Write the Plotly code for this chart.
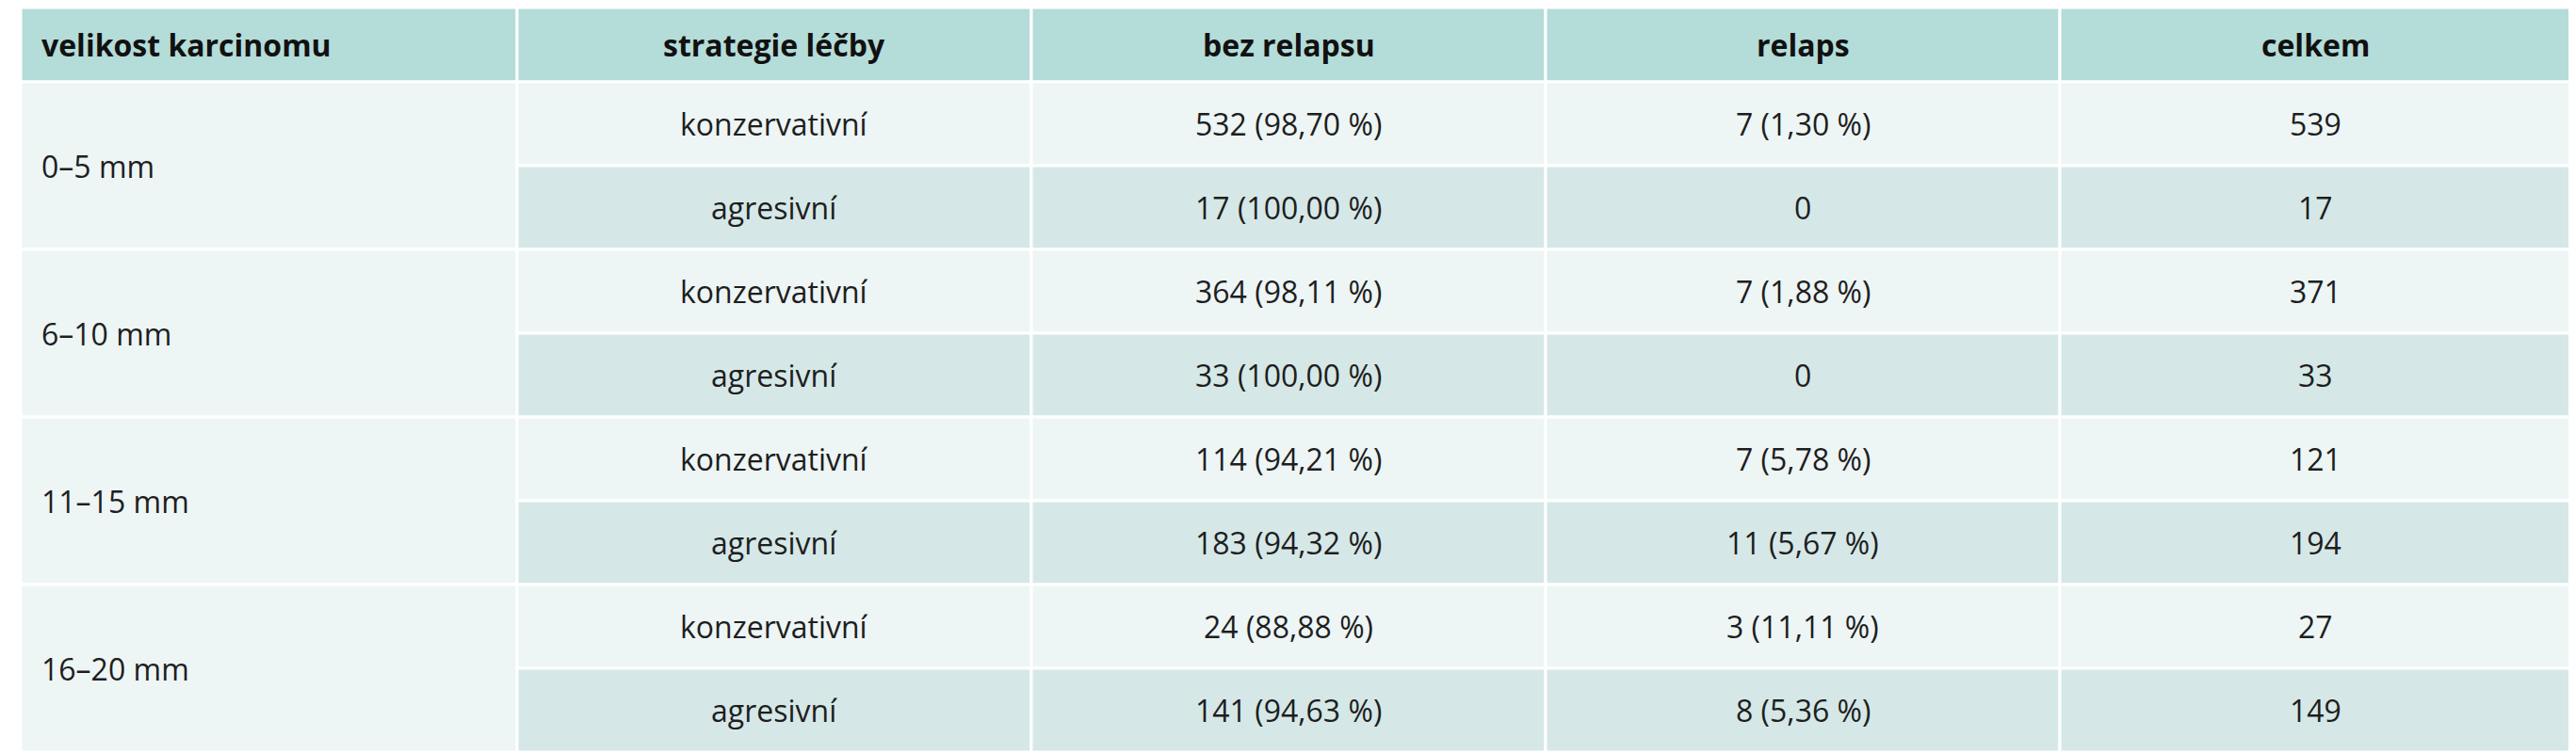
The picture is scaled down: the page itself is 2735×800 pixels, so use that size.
import plotly.graph_objects as go

headers = ["velikost karcinomu", "strategie léčby", "bez relapsu", "relaps", "celkem"]
sizes = ["0–5 mm", "6–10 mm", "11–15 mm", "16–20 mm"]
strategies = ["konzervativní", "agresivní"] * 4
bez_relapsu = ["532 (98,70 %)", "17 (100,00 %)", "364 (98,11 %)", "33 (100,00 %)",
               "114 (94,21 %)", "183 (94,32 %)", "24 (88,88 %)", "141 (94,63 %)"]
relaps = ["7 (1,30 %)", "0", "7 (1,88 %)", "0", "7 (5,78 %)", "11 (5,67 %)", "3 (11,11 %)", "8 (5,36 %)"]
celkem = ["539", "17", "371", "33", "121", "194", "27", "149"]

W, H = 2735, 800
colx = [14, 541, 1087, 1633, 2179, 2721]
top, head_h, row_h = 0, 79, 89
HEAD, C1, LIGHT, DARK = "#b4dcd8", "#edf5f5", "#edf5f5", "#d5e8e7"
font = dict(family="Open Sans", size=32, color="#1e1e1e")
hfont = dict(family="Open Sans", size=32, color="#111", weight="bold")

shapes, ann = [], []
def rect(x0, y0, x1, y1, c):
    shapes.append(dict(type="rect", x0=x0, x1=x1, y0=y0, y1=y1, fillcolor=c,
                       line=dict(color="white", width=3), layer="below"))

for i, h in enumerate(headers):
    rect(colx[i], top, colx[i+1], top+head_h, HEAD)
    ann.append(dict(x=colx[0]+20 if i == 0 else (colx[i]+colx[i+1])/2, y=top+head_h/2, text=h,
                    xanchor="left" if i == 0 else "center", showarrow=False, font=hfont))
for g, s in enumerate(sizes):
    y0 = top+head_h+2*g*row_h
    rect(colx[0], y0, colx[1], y0+2*row_h, C1)
    ann.append(dict(x=colx[0]+20, y=y0+row_h, text=s, xanchor="left", showarrow=False, font=font))
cols = [strategies, bez_relapsu, relaps, celkem]
for r in range(8):
    y0 = top+head_h+r*row_h
    for c, vals in enumerate(cols):
        rect(colx[c+1], y0, colx[c+2], y0+row_h, LIGHT if r % 2 == 0 else DARK)
        ann.append(dict(x=(colx[c+1]+colx[c+2])/2, y=y0+row_h/2, text=vals[r],
                        showarrow=False, font=font))

fig = go.Figure()
fig.update_layout(width=W, height=H, margin=dict(l=0, r=0, t=0, b=0),
                  paper_bgcolor="white", plot_bgcolor="white", shapes=shapes, annotations=ann,
                  xaxis=dict(range=[0, W], visible=False, fixedrange=True),
                  yaxis=dict(range=[H, 0], visible=False, fixedrange=True), showlegend=False)
fig.write_html("out.html")
